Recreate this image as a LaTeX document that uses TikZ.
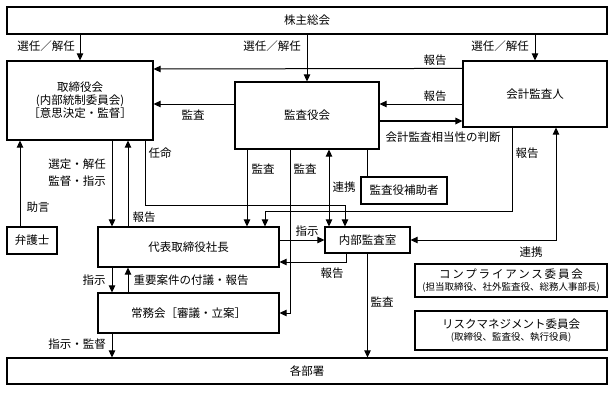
\documentclass[tikz,border=0pt]{standalone}
\usepackage{fontspec}
\setmainfont{Noto Sans CJK JP}
\newfontfamily\jpwide{Noto Sans CJK JP}[LetterSpace=16]
\usetikzlibrary{arrows.meta}
\begin{document}
\begin{tikzpicture}[x=1pt,y=-1pt,
  box/.style 2 args={draw,line width=1.2pt,inner sep=0pt,minimum width=#1,minimum height=#2,align=center,font=\fontsize{11.5}{13}\selectfont},
  lab/.style={inner sep=0pt,align=center,font=\fontsize{11.5}{17}\selectfont},
  arr/.style={-{Triangle[length=7pt,width=6.5pt]},line width=1pt},
  arrb/.style={{Triangle[length=7pt,width=6.5pt]}-{Triangle[length=7pt,width=6.5pt]},line width=1pt},
  small/.style={font=\fontsize{9.5}{12}\selectfont}]
\useasboundingbox (0,0) rectangle (615,392);
% boxes
\node[box={600pt}{27pt}] (kabu) at (307,20.5) {株主総会};
\node[box={146pt}{79pt}] (tori) at (80,100.5) {取締役会\\(内部統制委員会)\\［意思決定・監督］};
\node[box={144pt}{67pt}] (kansa) at (307,115.5) {監査役会};
\node[box={144pt}{66pt}] (kaikei) at (535,94) {会計監査人};
\node[box={86pt}{27pt}] (hojo) at (404,190.5) {監査役補助者};
\node[box={181pt}{40pt}] (daihyo) at (188.5,247) {代表取締役社長};
\node[box={50pt}{27pt}] (bengo) at (32,240.5) {弁護士};
\node[box={181pt}{40pt}] (jomu) at (188.5,313) {常務会［審議・立案］};
\node[box={600pt}{26pt}] (kakubu) at (307,371) {各部署};
\node[box={85pt}{26pt}] (naibu) at (367.5,240) {内部監査室};
\node[box={192pt}{33pt},font=\fontsize{11.5}{12}\selectfont] (comp) at (511,280.5) {{\jpwide コンプライアンス委員会}\\{\fontsize{9.5}{12}\selectfont (担当取締役、社外監査役、総務人事部長)}};
\node[box={192pt}{39pt},font=\fontsize{11.5}{12}\selectfont] (risk) at (511,330.5) {リスクマネジメント委員会\\{\fontsize{9.5}{12}\selectfont (取締役、監査役、執行役員)}};
% connectors
\draw[arr] (tori.north |- kabu.south) -- (tori.north);
\draw[arr] (kansa.north |- kabu.south) -- (kansa.north);
\draw[arr] (kaikei.north |- kabu.south) -- (kaikei.north);
\draw[arr] ([yshift=-8pt]kaikei.north west) -- ([yshift=31.5pt]tori.east);
\draw[arr] ([yshift=11.5pt]kansa.west) -- ([yshift=-3.5pt]tori.east);
\draw[arr] ([yshift=-10pt]kaikei.west) -- ([yshift=11.5pt]kansa.east);
\draw[arr,line width=1.6pt] ([yshift=-5.5pt]kansa.east) -- ([yshift=-27pt]kaikei.west);
\draw[arr] ([xshift=-23pt]kaikei.south) |- ([xshift=76.5pt,yshift=15pt]daihyo.north) -- ([xshift=76.5pt]daihyo.north);
\draw[arrb] ([xshift=21pt]kaikei.south) |- (naibu.east);
\draw[arr] ([xshift=65pt]tori.south) |- ([xshift=-22.5pt,yshift=21pt]naibu.north) -- ([xshift=-22.5pt]naibu.north);
\draw[arr] ([xshift=-60pt]kansa.south) -- ([xshift=58.5pt]daihyo.north);
\draw[arr] ([xshift=-17pt]kansa.south) |- (jomu.east);
\draw[arrb] ([xshift=22pt]kansa.south) -- ([xshift=-38.5pt]naibu.north);
\draw[line width=1pt] ([xshift=60pt]kansa.south) -- ([xshift=-37pt]hojo.north);
\draw[arr] ([xshift=32pt]tori.south) -- ([xshift=-76.5pt]daihyo.north);
\draw[arr] ([xshift=-60.5pt]daihyo.north) -- ([xshift=48pt]tori.south);
\draw[arr] ([xshift=-12pt]bengo.north) -- ([xshift=-60pt]tori.south);
\draw[arr] ([xshift=-76.5pt]daihyo.south) -- ([xshift=-76.5pt]jomu.north);
\draw[arr] ([xshift=-60.5pt]jomu.north) -- ([xshift=-60.5pt]daihyo.south);
\draw[arr] ([xshift=-76.5pt]jomu.south) -- ([xshift=-195pt]kakubu.north);
\draw[arr] ([yshift=7pt]daihyo.east) -- (naibu.west);
\draw[arr] ([xshift=-21.5pt]naibu.south) |- ([yshift=-15pt]daihyo.east);
\draw[arr] (naibu.south) -- ([xshift=60.5pt]kakubu.north);
% labels
\node[lab] (l1) at (46,46) {選任／解任};
\node[lab] (l2) at (272,46) {選任／解任};
\node[lab] (l3) at (500,46) {選任／解任};
\node[lab] (l4) at (435,60) {報告};
\node[lab] (l5) at (435,96) {報告};
\node[lab] (l6) at (193,115) {監査};
\node[lab] (l7) at (443,137) {会計監査相当性の判断};
\node[lab] (l8) at (527,153) {報告};
\node[lab] (l9) at (160,153) {任命};
\node[lab] (l10) at (77,173) {選定・解任\\監督・指示};
\node[lab] (l11) at (263,169) {監査};
\node[lab] (l12) at (305,169) {監査};
\node[lab] (l13) at (344,187) {連携};
\node[lab] (l14) at (38,207) {助言};
\node[lab] (l15) at (144,217) {報告};
\node[lab] (l16) at (307,231) {指示};
\node[lab] (l17) at (332,273) {報告};
\node[lab] (l18) at (94,280) {指示};
\node[lab] (l19) at (191,280) {重要案件の付議・報告};
\node[lab] (l20) at (531,252) {連携};
\node[lab] (l21) at (382,302) {監査};
\node[lab] (l22) at (77,344) {指示・監督};
\end{tikzpicture}
\end{document}
